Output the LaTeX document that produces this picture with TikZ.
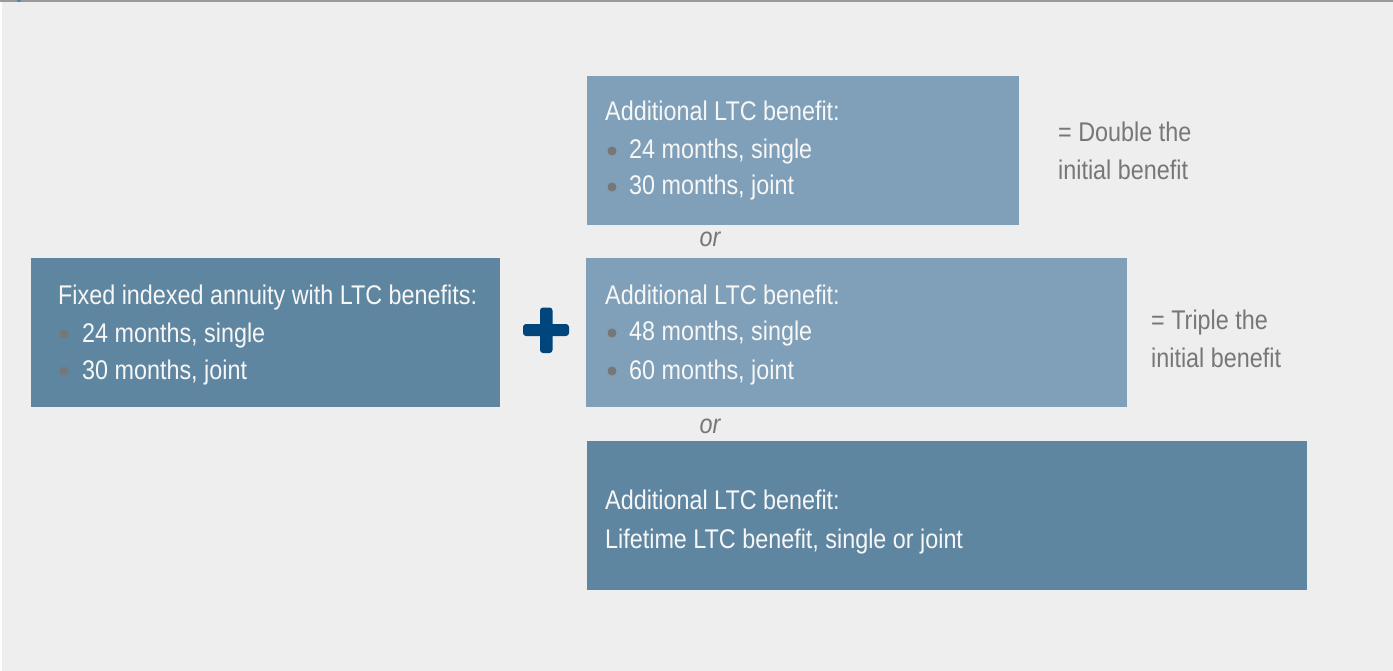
\documentclass[tikz,border=0pt]{standalone}
\usepackage{fontspec}
\setmainfont[FakeStretch=0.865]{Liberation Sans}
\definecolor{bg}{HTML}{EEEEEE}
\definecolor{darkbox}{HTML}{5E86A0}
\definecolor{lightbox}{HTML}{7FA0B8}
\definecolor{plusblue}{HTML}{00457C}
\definecolor{graytxt}{HTML}{777777}
\definecolor{boxtxt}{HTML}{F7F7F7}
\definecolor{topline}{HTML}{9A9A9A}
\tikzset{
  box/.style={inner sep=0pt, outer sep=0pt},
  txt/.style={anchor=base west, inner sep=0pt, text=boxtxt, font=\fontsize{27}{37}\selectfont},
  side/.style={anchor=base west, inner sep=0pt, text=graytxt, font=\fontsize{27}{37}\selectfont},
  ortxt/.style={anchor=base, inner sep=0pt, text=graytxt, font=\fontsize{27}{37}\selectfont\itshape},
  bullet/.style={circle, fill=graytxt, minimum size=9pt, inner sep=0pt},
}
\begin{document}
\begin{tikzpicture}[x=1pt,y=-1pt]
\useasboundingbox (0,0) rectangle (1393,671);
\fill[white] (0,0) rectangle (1393,671);
\fill[bg] (2,2) rectangle (1393,671);
\draw[topline, line width=2pt] (0,1.5) -- (1393,1.5);
\fill[darkbox] (17,0) rectangle (21,2.5);
% boxes
\fill[darkbox] (31,258) rectangle (500,407);
\fill[lightbox] (587,76) rectangle (1019,225);
\fill[lightbox] (586,258) rectangle (1127,407);
\fill[darkbox] (587,441) rectangle (1307,590);
% plus
\fill[plusblue, rounded corners=3pt] (523,324) rectangle (569,336);
\fill[plusblue, rounded corners=3pt] (540,307.5) rectangle (552.5,353);
% left box text
\node[txt] (l0) at (58,305) {Fixed indexed annuity with LTC benefits:};
\node[bullet] (lb1) at (64,334) {};
\node[txt] (l1) at (82,342) {24 months, single};
\node[bullet] (lb2) at (64,371) {};
\node[txt] (l2) at (82,379) {30 months, joint};
% top box text
\node[txt] (t0) at (605,121) {Additional LTC benefit:};
\node[bullet] (tb1) at (612,151) {};
\node[txt] (t1) at (629,159) {24 months, single};
\node[bullet] (tb2) at (612,187) {};
\node[txt] (t2) at (629,195) {30 months, joint};
% middle box text
\node[txt] (m0) at (605,305) {Additional LTC benefit:};
\node[bullet] (mb1) at (612,333) {};
\node[txt] (m1) at (629,341) {48 months, single};
\node[bullet] (mb2) at (612,371) {};
\node[txt] (m2) at (629,379) {60 months, joint};
% bottom box text
\node[txt] (b0) at (605,509) {Additional LTC benefit:};
\node[txt] (b1) at (605,548) {Lifetime LTC benefit, single or joint};
% or
\node[ortxt] (or1) at (710,247) {or};
\node[ortxt] (or2) at (710,433) {or};
% side texts
\node[side] (d1) at (1058,142) {= Double the};
\node[side] (d2) at (1058,180) {initial benefit};
\node[side] (tr1) at (1151,330) {= Triple the};
\node[side] (tr2) at (1151,367) {initial benefit};
\end{tikzpicture}
\end{document}
